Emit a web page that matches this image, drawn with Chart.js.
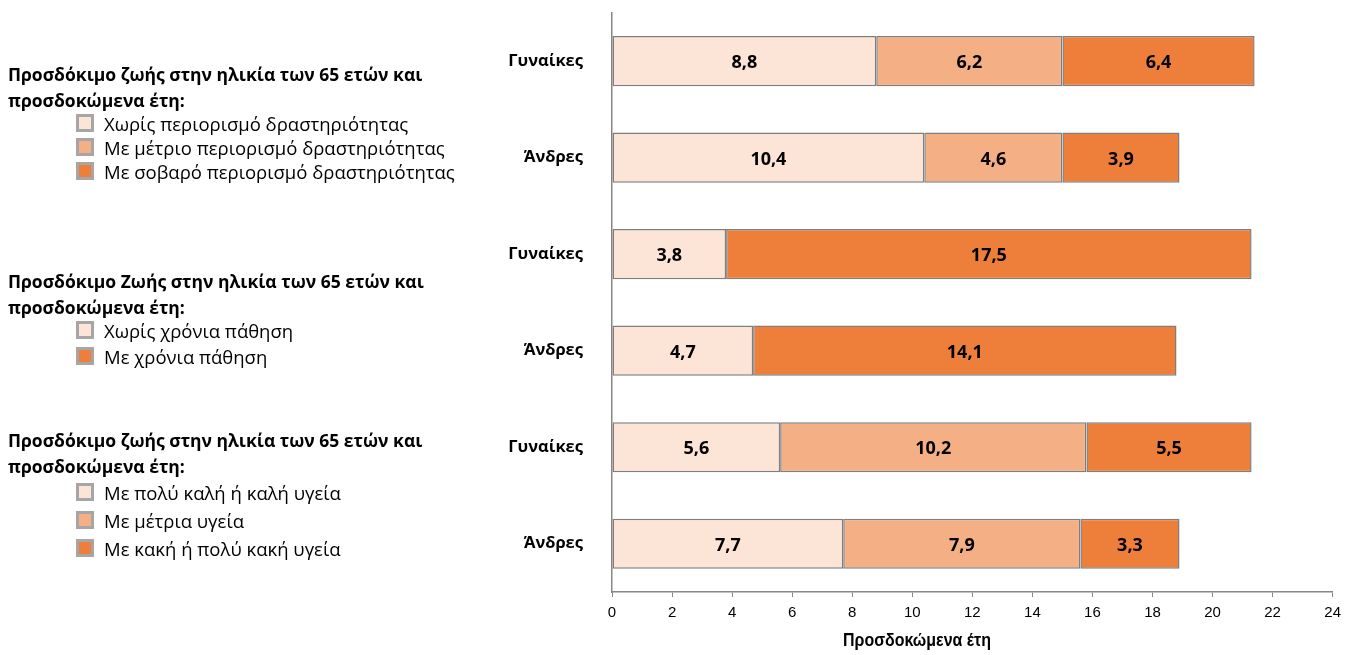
<!DOCTYPE html>
<html lang="el">
<head>
<meta charset="utf-8">
<title>Προσδόκιμο ζωής στην ηλικία των 65 ετών</title>
<script src="https://cdn.jsdelivr.net/npm/chart.js@4/dist/chart.umd.min.js"></script>
<style>
    body { margin: 0; background: #fff; font-family: "Open Sans", "Noto Sans", sans-serif; color: #000; }
    #wrap { position: relative; width: 1348px; height: 655px; }
    #chart { position: absolute; left: 0; top: 0; }
    .legend-head { position: absolute; left: 8px; font-weight: bold; font-size: 17.5px; line-height: 26px; white-space: nowrap; }
    .legend-item { position: absolute; left: 76px; font-size: 18.5px; line-height: 24px; white-space: nowrap; }
    .legend-item span {
        display: inline-block; width: 12px; height: 12px; border: 3px solid #a6a6a6;
        margin-right: 10px; vertical-align: -1px;
    }
    #xTitle {
        position: absolute; left: 843px; top: 630px; line-height: 19px; white-space: nowrap;
        font-family: "Liberation Sans Narrow", "Arial Narrow", "Liberation Sans", sans-serif;
        font-weight: bold; font-size: 19px; transform-origin: left top;
    }
</style>
</head>
<body>
<div id="wrap">
    <canvas id="chart" width="1348" height="655"></canvas>
    <div id="legends"></div>
    <div id="xTitle">Προσδοκώμενα έτη</div>
</div>
<script>
// Categories (top to bottom)
const categories = ['Γυναίκες', 'Άνδρες', 'Γυναίκες', 'Άνδρες', 'Γυναίκες', 'Άνδρες'];

// Series values: light / medium / dark segment of each bar
const lightValues = [8.8, 10.4, 3.8, 4.7, 5.6, 7.7];
const mediumValues = [6.2, 4.6, null, null, 10.2, 7.9];
const darkValues = [6.4, 3.9, 17.5, 14.1, 5.5, 3.3];

// X axis ticks
const xTicks = [0, 2, 4, 6, 8, 10, 12, 14, 16, 18, 20, 22, 24];

// Legend groups (left side)
const legendTitle1 = 'Προσδόκιμο ζωής στην ηλικία των 65 ετών και';
const legendTitle2 = 'Προσδόκιμο Ζωής στην ηλικία των 65 ετών και';
const legendTitle3 = 'Προσδόκιμο ζωής στην ηλικία των 65 ετών και';
const legendSub = 'προσδοκώμενα έτη:';
const legendItems1 = ['Χωρίς περιορισμό δραστηριότητας', 'Με μέτριο περιορισμό δραστηριότητας', 'Με σοβαρό περιορισμό δραστηριότητας'];
const legendItems2 = ['Χωρίς χρόνια πάθηση', 'Με χρόνια πάθηση'];
const legendItems3 = ['Με πολύ καλή ή καλή υγεία', 'Με μέτρια υγεία', 'Με κακή ή πολύ κακή υγεία'];

const colLight = '#FCE4D6';
const colMedium = '#F4B084';
const colDark = '#EE7F3B';
const colBorder = '#7f7f7f';

// is a narrow font installed? if not, squeeze the axis title a bit
const narrowFont = (() => {
    const c = document.createElement('canvas').getContext('2d');
    c.font = '20px monospace';
    const a = c.measureText('Προσδοκώμενα 0123').width;
    c.font = '20px "Liberation Sans Narrow", monospace';
    return c.measureText('Προσδοκώμενα 0123').width !== a;
})();
if (!narrowFont) document.getElementById('xTitle').style.transform = 'scaleX(0.84)';
const tickFont = narrowFont
    ? { family: '"Liberation Sans Narrow", sans-serif', size: 16 }
    : { family: '"Liberation Sans", sans-serif', size: 15 };

// Build the HTML legend
const legendBox = document.getElementById('legends');
function addHead(title, top) {
    const d = document.createElement('div');
    d.className = 'legend-head';
    d.style.top = top + 'px';
    d.innerHTML = title + '<br>' + legendSub;
    legendBox.appendChild(d);
}
function addItem(text, color, top) {
    const d = document.createElement('div');
    d.className = 'legend-item';
    d.style.top = top + 'px';
    d.innerHTML = '<span style="background:' + color + '"></span>' + text;
    legendBox.appendChild(d);
}
addHead(legendTitle1, 61);
[colLight, colMedium, colDark].forEach((c, i) => addItem(legendItems1[i], c, 112 + i * 24));
addHead(legendTitle2, 268);
[colLight, colDark].forEach((c, i) => addItem(legendItems2[i], c, 319 + i * 26));
addHead(legendTitle3, 427);
[colLight, colMedium, colDark].forEach((c, i) => addItem(legendItems3[i], c, 481 + i * 28));

// Value labels inside the bar segments
const barLabels = {
    id: 'barLabels',
    afterDatasetsDraw(chart) {
        const ctx = chart.ctx;
        ctx.save();
        ctx.font = 'bold 18px "Open Sans", sans-serif';
        ctx.fillStyle = '#000';
        ctx.textAlign = 'center';
        ctx.textBaseline = 'middle';
        chart.data.datasets.forEach((ds, i) => {
            chart.getDatasetMeta(i).data.forEach((bar, j) => {
                const v = ds.data[j];
                if (v == null) return;
                const p = bar.getCenterPoint();
                ctx.fillText(v.toFixed(1).replace('.', ','), p.x, p.y + 2);
            });
        });
        ctx.restore();
    }
};

const barStyle = { borderColor: colBorder, borderWidth: 1.5, borderSkipped: false, categoryPercentage: 1, barPercentage: 0.52 };

new Chart(document.getElementById('chart'), {
    type: 'bar',
    data: {
        labels: categories,
        datasets: [
            { label: 'light', data: lightValues, backgroundColor: colLight, ...barStyle },
            { label: 'medium', data: mediumValues, backgroundColor: colMedium, ...barStyle },
            { label: 'dark', data: darkValues, backgroundColor: colDark, ...barStyle }
        ]
    },
    options: {
        indexAxis: 'y',
        responsive: false,
        animation: false,
        layout: { padding: { left: 500, top: 12, right: 15, bottom: 0 } },
        plugins: { legend: { display: false }, tooltip: { enabled: false } },
        scales: {
            x: {
                stacked: true,
                min: 0,
                max: 24,
                afterBuildTicks: (scale) => { scale.ticks = xTicks.map(v => ({ value: v })); },
                afterFit: (scale) => { scale.height = 63; },
                grid: { drawOnChartArea: false, drawTicks: true, tickLength: 5, color: '#868686' },
                border: { color: '#868686', width: 1.5 },
                ticks: { color: '#000', padding: 7, font: tickFont }
            },
            y: {
                stacked: true,
                afterFit: (scale) => { scale.width = 112; },
                grid: { drawOnChartArea: false, drawTicks: true, tickLength: 26, color: 'rgba(0,0,0,0)' },
                border: { color: '#868686', width: 1.5 },
                ticks: {
                    color: '#000',
                    padding: 3,
                    font: { family: '"Open Sans", sans-serif', size: 16.5, weight: 'bold' }
                }
            }
        }
    },
    plugins: [barLabels]
});
</script>
</body>
</html>
